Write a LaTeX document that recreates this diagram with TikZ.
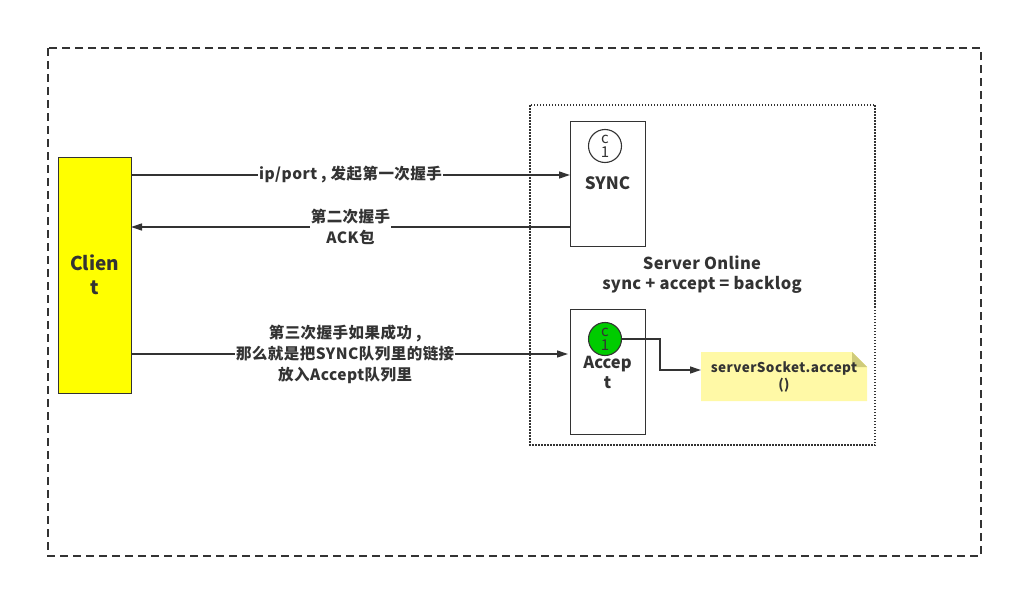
\documentclass[tikz,border=0pt]{standalone}
\usepackage{fontspec}
\setmainfont{Noto Sans CJK SC}
\usetikzlibrary{arrows.meta,shapes.misc}
\definecolor{ink}{HTML}{333333}
\definecolor{clientyellow}{HTML}{FFFF00}
\definecolor{ledgreen}{HTML}{00CC00}
\definecolor{notefill}{HTML}{FFF9A6}
\definecolor{notefold}{HTML}{CFCB7A}
\tikzset{
  conn/.style={draw=ink, line width=1.3pt},
  tip/.style={-{Triangle[length=11pt,width=7pt]}},
  lbl/.style={fill=white, inner sep=1pt, font=\fontsize{15.5}{21}\selectfont\bfseries\addfontfeatures{LetterSpace=3}, text=ink, align=center},
  boxnode/.style={draw=ink, line width=1.3pt, fill=white, anchor=north west, inner sep=0pt},
  led/.style={circle, draw=ink, line width=1.1pt, minimum size=33pt, inner sep=0pt, text=ink, align=center},
  ledtxt/.style={font=\fontsize{15}{14}\selectfont, text=ink, align=center, inner sep=0pt},
  bigtxt/.style={font=\fontsize{19}{24}\selectfont\bfseries, text=ink, align=center},
  midtxt/.style={font=\fontsize{16.5}{20}\selectfont\bfseries\addfontfeatures{LetterSpace=2}, text=ink, align=center},
}
\begin{document}
\begin{tikzpicture}[x=1pt,y=-1pt]
\useasboundingbox (0,0) rectangle (1013,589);
% outer dashed frame
\draw[ink, line width=2pt, dash pattern=on 8pt off 5pt] (48,48) rectangle (981,556);
% inner dotted frame
\draw[ink, line width=1.5pt, dash pattern=on 1.5pt off 1.5pt] (530,105) rectangle (875,445);

% client
\node[boxnode, fill=clientyellow, minimum width=73pt, minimum height=236pt] (client) at (58,157) {};
\node[bigtxt] (clienttxt) at (94.5,275) {Clien\\t};

% SYNC box
\node[boxnode, minimum width=75pt, minimum height=125pt] (sync) at (570,121) {};
\node[led] (c1) at (605,146) {};
\node[ledtxt] (c1t) at (605,146) {c\\1};
\node[font=\fontsize{17}{20}\selectfont\bfseries, text=ink] (synctxt) at (607.5,183) {SYNC};

% Accept box
\node[boxnode, minimum width=75pt, minimum height=125pt] (acc) at (570,309) {};
\node[led, fill=ledgreen] (c2) at (605,339) {};
\node[ledtxt] (c2t) at (605,339) {c\\1};
\node[font=\fontsize{16.5}{20}\selectfont\bfseries, text=ink, align=center] (acctxt) at (607.5,372) {Accep\\t};

% server online
\node[midtxt] (srv) at (702,275) {Server Online\\sync + accept = backlog};

% note
\fill[notefill] (701,352) -- (852,352) -- (867,367) -- (867,401) -- (701,401) -- cycle;
\fill[notefold] (852,352) -- (867,367) -- (852,367) -- cycle;
\node[font=\fontsize{13.5}{17}\selectfont\bfseries\addfontfeatures{LetterSpace=3}, text=ink, align=center] (note) at (784,377) {serverSocket.accept\\()};
\coordinate (noteleft) at (701,370);

% connectors
\coordinate (a1s) at (131,175); \coordinate (a1e) at (570,175);
\draw[conn, tip] (a1s) -- node[lbl] {ip/port , 发起第一次握手} (a1e);
\coordinate (a2s) at (570,227); \coordinate (a2e) at (131,227);
\draw[conn, tip] (a2s) -- node[lbl, pos=0.5] {第二次握手\\ACK包} (a2e);
\coordinate (a3s) at (131,354); \coordinate (a3e) at (568,354);
\draw[conn, tip] (a3s) -- node[lbl, pos=0.49] {第三次握手如果成功 ,\\那么就是把SYNC队列里的链接\\放入Accept队列里} (a3e);
\draw[conn, tip] (c2.east) -- (660,339) -- (660,370) -- (noteleft);
\end{tikzpicture}
\end{document}
